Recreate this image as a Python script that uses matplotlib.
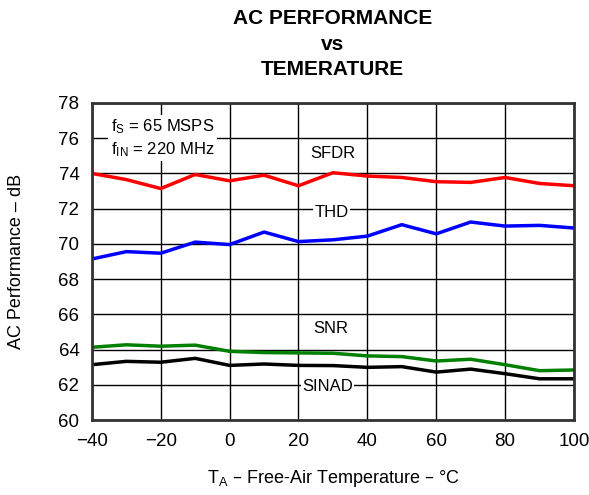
import matplotlib
matplotlib.use("Agg")
import matplotlib.pyplot as plt

plt.rcParams['font.family'] = ['Liberation Sans', 'DejaVu Sans']

temps = [-40, -30, -20, -10, 0, 10, 20, 30, 40, 50, 60, 70, 80, 90, 100]
sfdr = [74.0, 73.65, 73.14, 73.94, 73.58, 73.9, 73.3, 74.04, 73.85, 73.77, 73.53, 73.49, 73.77, 73.43, 73.3]
thd = [69.14, 69.56, 69.47, 70.1, 69.96, 70.67, 70.13, 70.23, 70.44, 71.09, 70.57, 71.24, 71.01, 71.05, 70.9]
snr = [64.13, 64.27, 64.19, 64.25, 63.9, 63.83, 63.81, 63.79, 63.64, 63.6, 63.35, 63.45, 63.14, 62.8, 62.84]
sinad = [63.14, 63.33, 63.28, 63.5, 63.1, 63.18, 63.1, 63.09, 62.99, 63.03, 62.72, 62.89, 62.63, 62.34, 62.34]

fig = plt.figure(figsize=(5.89, 4.95), dpi=100)
ax = fig.add_axes([0.156, 0.1515, 0.8185, 0.6405])

ax.plot(temps, sfdr, color="#ff0000", lw=2.5)
ax.plot(temps, thd, color="#0000ff", lw=2.5)
ax.plot(temps, snr, color="#008000", lw=2.5)
ax.plot(temps, sinad, color="black", lw=2.5)

ax.set_xlim(-40, 100)
ax.set_ylim(60, 78)
ax.set_xticks(range(-40, 101, 20))
ax.set_yticks(range(60, 79, 2))
ax.grid(True, color="black", lw=1)
ax.set_axisbelow(True)
ax.tick_params(length=0, labelsize=13.5, pad=9)
for s in ax.spines.values():
    s.set_linewidth(2)
    s.set_color("#333333")

box = dict(facecolor="white", edgecolor="none", pad=1)
ax.text(30, 75.15, "SFDR", ha="center", va="center", fontsize=12)
ax.text(29.5, 71.8, "THD", ha="center", va="center", fontsize=12, bbox=box)
ax.text(29.5, 65.2, "SNR", ha="center", va="center", fontsize=12)
ax.text(28.5, 61.9, "SINAD", ha="center", va="center", fontsize=12, bbox=box)
ax.text(-34.5, 76, "$\\mathregular{f_S}$ = 65 MSPS\n$\\mathregular{f_{IN}}$ = 220 MHz",
        ha="left", va="center", fontsize=12, linespacing=1.25, bbox=dict(facecolor="white", edgecolor="none", pad=2))

ax.set_ylabel("AC Performance \u2013 dB", fontsize=13, labelpad=24)
ax.set_xlabel("$\\mathregular{T_A}$ \u2013 Free-Air Temperature \u2013 \u00b0C", fontsize=13, labelpad=13)
fig.text(0.564, 0.982, "AC PERFORMANCE\nvs\nTEMERATURE", ha="center", va="top",
         fontsize=15, fontweight="bold", linespacing=1.45)

fig.savefig("out.png", dpi=100)
